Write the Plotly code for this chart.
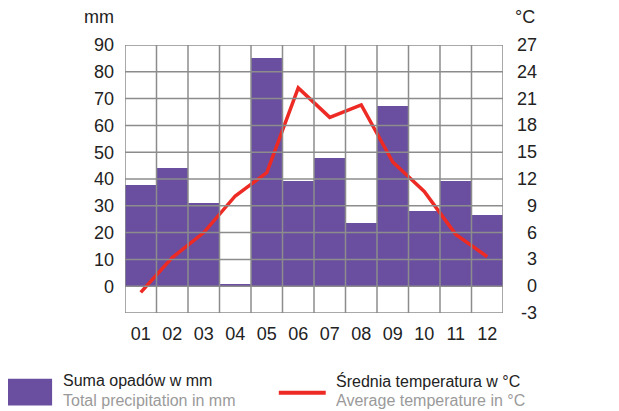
import plotly.graph_objects as go

# dane
miesiace = ['01', '02', '03', '04', '05', '06', '07', '08', '09', '10', '11', '12']
opady = [37.7, 44.2, 31.1, 0.9, 85.2, 39.4, 48.0, 23.4, 67.4, 28.2, 39.4, 26.6]
temperatura = [-0.7, 3.2, 6.0, 10.1, 12.7, 22.2, 18.9, 20.3, 13.9, 10.6, 5.8, 3.3]
ticki_mm = [-10, 0, 10, 20, 30, 40, 50, 60, 70, 80, 90]
ticki_c = [-3, 0, 3, 6, 9, 12, 15, 18, 21, 24, 27]

FONT = 'Liberation Sans, Arial, sans-serif'
PURPLE = '#6a4fa0'
RED = '#ee2a24'
GRID = '#8c8c8c'
OFF = 8  # margines strony w przegladarce
W, H = 619 - OFF, 411 - OFF
L, R, T, B = 125, 503.5, 45.3, 313.3  # obszar wykresu w pikselach okna


def px(x):
    return (x - L) / (R - L)


def py(y):
    return (B - y) / (B - T)


fig = go.Figure()

fig.add_trace(go.Bar(
    x=miesiace, y=opady,
    marker=dict(color=PURPLE, line=dict(width=0)),
    yaxis='y', hoverinfo='skip'
))

fig.add_trace(go.Scatter(
    x=miesiace, y=temperatura,
    mode='lines', yaxis='y2',
    line=dict(color=RED, width=3.5),
    hoverinfo='skip'
))

shapes = []
# siatka nad slupkami
for v in ticki_mm:
    shapes.append(dict(type='line', xref='paper', yref='y', x0=0, x1=1, y0=v, y1=v,
                       line=dict(color=GRID, width=1.5), layer='above'))
for i in range(len(miesiace) + 1):
    shapes.append(dict(type='line', xref='x', yref='paper', x0=i - 0.5, x1=i - 0.5, y0=0, y1=1,
                       line=dict(color=GRID, width=1.5), layer='above'))

# legenda
shapes.append(dict(type='rect', xref='paper', yref='paper',
                   x0=px(7), x1=px(52), y0=py(379), y1=py(405.7),
                   fillcolor=PURPLE, line=dict(width=0)))
shapes.append(dict(type='line', xref='paper', yref='paper',
                   x0=px(279), x1=px(326), y0=py(393), y1=py(393),
                   line=dict(color=RED, width=4)))

annotations = []
for v in ticki_c:
    annotations.append(dict(x=1, xref='paper', y=v, yref='y2', text=str(v),
                            xanchor='right', yanchor='middle', xshift=36, showarrow=False,
                            font=dict(size=18, color='#222222', family=FONT)))


def napis(x, y, text, color='#222222', size=16, anchor='left'):
    return dict(x=px(x), y=py(y), xref='paper', yref='paper', text=text,
                xanchor=anchor, yanchor='middle', showarrow=False,
                font=dict(size=size, color=color, family=FONT))


annotations += [
    napis(99, 17, 'mm', size=18, anchor='center'),
    napis(526, 17, '°C', size=18, anchor='center'),
    napis(61, 381, 'Suma opadów w mm'),
    napis(61, 401, 'Total precipitation in mm', color='#9a9a9a'),
    napis(334, 381, 'Średnia temperatura w °C'),
    napis(334, 401, 'Average temperature in °C', color='#9a9a9a'),
]

fig.update_layout(
    width=W, height=H,
    margin=dict(l=L - OFF, r=W + OFF - R, t=T - OFF, b=H + OFF - B),
    paper_bgcolor='white', plot_bgcolor='white',
    showlegend=False, bargap=0,
    font=dict(family=FONT, size=18, color='#222222'),
    xaxis=dict(type='category', range=[-0.5, 11.5], showgrid=False, showline=False,
               ticks='', ticklabelstandoff=8, tickfont=dict(size=18)),
    yaxis=dict(range=[-10, 90], tickvals=ticki_mm[1:], showgrid=False, zeroline=False,
               showline=False, ticks='', ticklabelstandoff=10, tickfont=dict(size=18)),
    yaxis2=dict(range=[-3, 27], overlaying='y', side='right', showgrid=False,
                zeroline=False, showline=False, showticklabels=False, ticks=''),
    shapes=shapes,
    annotations=annotations,
)

fig.write_html('out.html')
